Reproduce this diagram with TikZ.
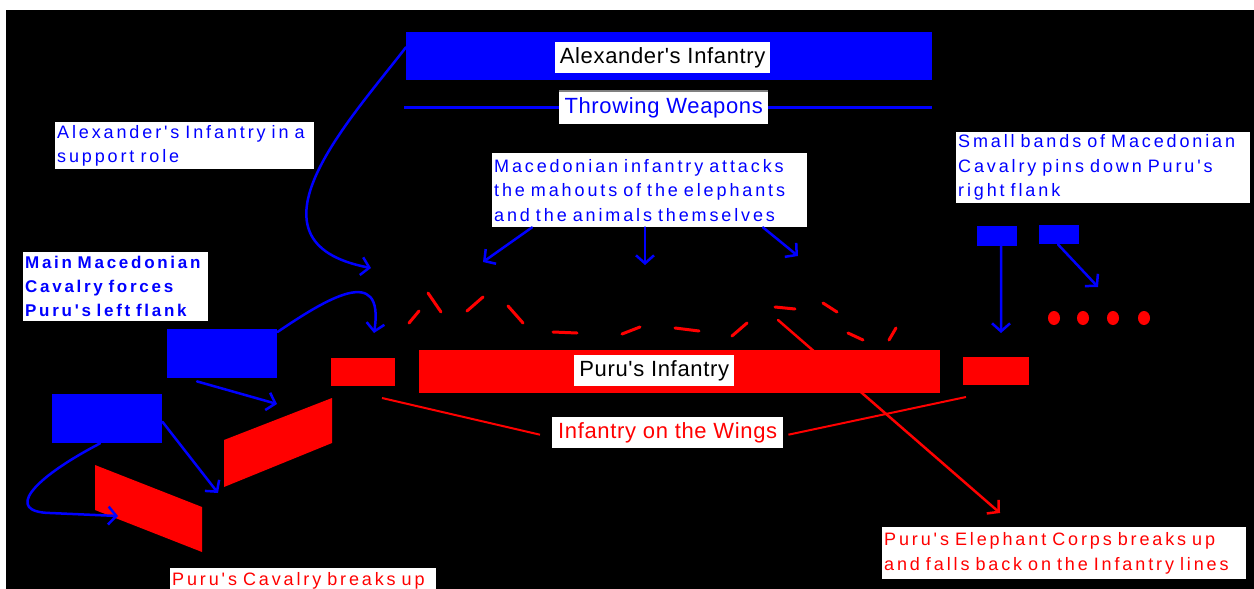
\documentclass[tikz,border=0pt]{standalone}
\usepackage{fontspec}
\setmainfont{Liberation Sans}
\newfontfamily\spacedfont[LetterSpace=16,WordSpace=1.5]{Liberation Sans}
\newfontfamily\titlefont[LetterSpace=3]{Liberation Sans}
\usetikzlibrary{arrows.meta}
\definecolor{pureblue}{RGB}{0,0,255}
\definecolor{purered}{RGB}{255,0,0}
\begin{document}
\begin{tikzpicture}[x=1pt,y=-1pt,
  bluerect/.style={fill=pureblue, anchor=north west, inner sep=0pt},
  redrect/.style={fill=purered, anchor=north west, inner sep=0pt},
  notebox/.style={fill=white, anchor=north west, inner xsep=2pt, inner ysep=0pt, align=left,
    font=\spacedfont\fontsize{18}{24.5}\selectfont},
  titlebox/.style={fill=white, anchor=north west, inner sep=0pt,
    font=\titlefont\fontsize{22}{26}\selectfont},
  barrow/.style={draw=pureblue, line width=2.5pt, line cap=round, line join=round,
    -{Straight Barb[length=8pt,width=18pt,line width=2.5pt]}},
  rarrow/.style={draw=purered, line width=2.5pt, line cap=round,
    -{Straight Barb[length=8pt,width=18pt,line width=2.5pt]}},
  rline/.style={draw=purered, line width=2pt},
  dashseg/.style={draw=purered, line width=3pt, line cap=round},
]
\clip (0,0) rectangle (1254,589);
\fill[white] (0,0) rectangle (1254,589);
\fill[black] (6,10) rectangle (1254,589);

% ---- Alexander's infantry
\node[bluerect, minimum width=526pt, minimum height=48pt] (alexrect) at (406,32) {};
\node[titlebox, text=black, minimum width=215pt, minimum height=31pt] (alexlbl) at (555,42) {Alexander's Infantry};
\coordinate (tw1) at (404,107);
\coordinate (tw2) at (932,107);
\draw[pureblue, line width=3pt] (tw1) -- (tw2);
\node[titlebox, text=pureblue, minimum width=209pt, minimum height=33pt] (throw) at (559,91) {Throwing Weapons};
\draw[gray, line width=2pt] (throw.north west) -- (throw.north east);

% ---- note boxes
\node[notebox, text=pureblue, text width=255pt, minimum height=47pt] (support) at (55,122)
  {Alexander's Infantry in a\\support role};
\node[notebox, text=pureblue, text width=181pt, minimum height=69pt,
  font=\spacedfont\bfseries\fontsize{17}{24}\selectfont] (maincav) at (23,252)
  {Main Macedonian\\Cavalry forces\\Puru's left flank};
\node[notebox, text=pureblue, text width=311pt, minimum height=74pt] (mac) at (492,153)
  {Macedonian infantry attacks\\the mahouts of the elephants\\and the animals themselves};
\node[notebox, text=pureblue, text width=290pt, minimum height=71pt] (small) at (956,132)
  {Small bands of Macedonian\\Cavalry pins down Puru's\\right flank};
\node[notebox, text=purered, text width=360pt, minimum height=52pt] (eleph) at (882,527)
  {Puru's Elephant Corps breaks up\\and falls back on the Infantry lines};
\node[notebox, text=purered, text width=262pt, minimum height=26pt] (puricav) at (170,568)
  {Puru's Cavalry breaks up};

% ---- Puru's lines
\node[redrect, minimum width=521pt, minimum height=43pt] (puruinf) at (419,350) {};
\node[titlebox, text=black, minimum width=160pt, minimum height=31pt] (purulbl) at (574,355) {Puru's Infantry};
\node[redrect, minimum width=64pt, minimum height=28pt] (lwing) at (331,358) {};
\node[redrect, minimum width=66pt, minimum height=28pt] (rwing) at (963,357) {};
\node[titlebox, text=purered, minimum width=231pt, minimum height=31pt] (wings) at (552,417) {Infantry on the Wings};

% ---- Puru's cavalry (broken)
\fill[purered] (224,440) -- (332,398) -- (332,443) -- (224,487) -- cycle;
\fill[purered] (95,465) -- (202,507) -- (202,552) -- (95,510) -- cycle;

% ---- Macedonian cavalry
\node[bluerect, minimum width=110pt, minimum height=49pt] (cav1) at (167,329) {};
\node[bluerect, minimum width=110pt, minimum height=49pt] (cav2) at (52,394) {};
\node[bluerect, minimum width=40pt, minimum height=20pt] (rc1) at (977,226) {};
\node[bluerect, minimum width=40pt, minimum height=19pt] (rc2) at (1039,225) {};

% ---- elephants
\draw[dashseg] (409,323) -- (419,311);
\draw[dashseg] (428,293) -- (441,312);
\draw[dashseg] (467,311) -- (483,297);
\draw[dashseg] (508,306) -- (523,323);
\draw[dashseg] (553,332) -- (577,333);
\draw[dashseg] (622,334) -- (640,327);
\draw[dashseg] (675,328) -- (699,331);
\draw[dashseg] (732,336) -- (747,323);
\draw[dashseg] (775,307) -- (795,309);
\draw[dashseg] (823,303) -- (837,312);
\draw[dashseg] (848,333) -- (863,340);
\draw[dashseg] (889,340) -- (896,328);
\foreach \x in {1054,1083,1113,1144}{\fill[purered] (\x,318) ellipse (6 and 7);}

% ---- coordinates for free ends
\coordinate (supEnd) at (371,268);
\coordinate (cav1End) at (374,333);
\coordinate (cav1b) at (277,404);
\coordinate (cav2a) at (218,493);
\coordinate (cav2b) at (118,516);
\coordinate (macL) at (483,262);
\coordinate (macM) at (645,265);
\coordinate (macR) at (798,256);
\coordinate (rc1End) at (1001,333);
\coordinate (rc2End) at (1098,287);
\coordinate (elStart) at (778,320);
\coordinate (elEnd) at (1000,513);
\coordinate (lwEnd) at (382,398);
\coordinate (rwEnd) at (966,397);

% ---- blue arrows
\draw[barrow] ([yshift=9pt]alexrect.west) .. controls (350,120) and (235,242) .. (supEnd);
\draw[barrow] ([yshift=-3pt]cav1.north east) .. controls (325,300) and (385,262) .. (cav1End);
\draw[barrow] ([xshift=30pt,yshift=-3pt]cav1.south west) -- (cav1b);
\draw[barrow] ([yshift=-3pt]cav2.east) -- (cav2a);
\draw[barrow] ([xshift=48pt]cav2.south west) .. controls (30,480) and (5,512) .. (50,513) -- (cav2b);
\draw[barrow] ([xshift=40pt]mac.south west) -- (macL);
\draw[barrow] ([xshift=153pt]mac.south west) -- (macM);
\draw[barrow] ([xshift=271pt]mac.south west) -- (macR);
\draw[barrow] ([xshift=4pt]rc1.south) -- (rc1End);
\draw[barrow] ([xshift=19pt]rc2.south west) -- (rc2End);

% ---- red connectors
\draw[rarrow] (elStart) -- (elEnd);
\draw[rline] (lwEnd) -- ([xshift=-12pt,yshift=-2pt]wings.west);
\draw[rline] ([xshift=5pt,yshift=-2pt]wings.east) -- (rwEnd);
\end{tikzpicture}
\end{document}
